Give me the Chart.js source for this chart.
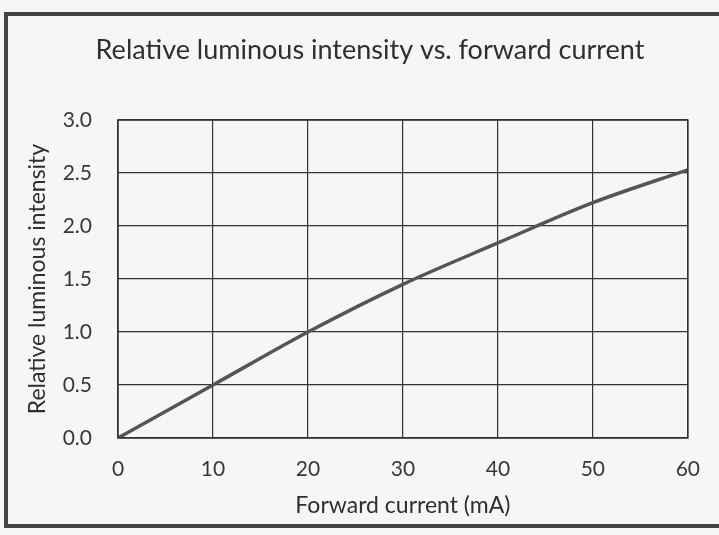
<!DOCTYPE html>
<html>
<head>
<meta charset="utf-8">
<script src="https://cdn.jsdelivr.net/npm/chart.js@4"></script>
<style>
  html, body { margin: 0; padding: 0; background: #f6f6f4; }
  #wrap { width: 719px; height: 535px; position: relative; }
</style>
</head>
<body>
<div id="wrap"><canvas id="c" width="719" height="535"></canvas></div>
<script>
const currents = [0, 10, 20, 30, 40, 50, 60];
const intensity = [0, 0.5, 1.0, 1.45, 1.84, 2.22, 2.53];
const xTicks = [0, 10, 20, 30, 40, 50, 60];
const yTicks = [0, 0.5, 1.0, 1.5, 2.0, 2.5, 3.0];

const FONT = "Lato, 'Open Sans', sans-serif";

const frame = {
  id: 'frame',
  beforeDraw(chart) {
    const ctx = chart.ctx;
    ctx.save();
    ctx.fillStyle = '#f6f6f4';
    ctx.fillRect(0, 0, chart.width, chart.height);
    ctx.strokeStyle = '#444';
    ctx.lineWidth = 4;
    ctx.strokeRect(6, 14, chart.width + 20, 512);
    ctx.restore();
  },
  afterDatasetsDraw(chart) {
    const a = chart.chartArea;
    const ctx = chart.ctx;
    ctx.save();
    ctx.strokeStyle = '#333';
    ctx.lineWidth = 1.5;
    ctx.strokeRect(a.left, a.top, a.right - a.left, a.bottom - a.top);
    ctx.restore();
  }
};

new Chart(document.getElementById('c'), {
  type: 'line',
  data: {
    datasets: [{
      data: currents.map((x, i) => ({ x, y: intensity[i] })),
      borderColor: '#555',
      borderWidth: 3.5,
      pointRadius: 0,
      tension: 0.4,
      cubicInterpolationMode: 'monotone',
      fill: false
    }]
  },
  options: {
    responsive: false,
    animation: false,
    layout: { padding: { left: 52, right: 31, top: 0, bottom: 0 } },
    plugins: {
      legend: { display: false },
      tooltip: { enabled: false },
      title: {
        display: true,
        text: 'Relative luminous intensity vs. forward current',
        color: '#2f2f2f',
        font: { family: FONT, size: 27, weight: 'normal' },
        padding: { top: 34, bottom: 53.6 }
      }
    },
    scales: {
      x: {
        type: 'linear',
        min: 0, max: 60,
        afterBuildTicks(s) { s.ticks = xTicks.map(v => ({ value: v })); },
        afterFit(s) { s.height = 97; },
        grid: { color: '#333', lineWidth: 1.2, drawTicks: false },
        border: { display: false },
        ticks: { color: '#383838', font: { family: FONT, size: 21 }, padding: 19, maxRotation: 0 },
        title: {
          display: true,
          text: 'Forward current (mA)',
          color: '#2f2f2f',
          font: { family: FONT, size: 23 },
          padding: { top: 0, bottom: 16 }
        }
      },
      y: {
        min: 0, max: 3,
        afterBuildTicks(s) { s.ticks = yTicks.map(v => ({ value: v })); },
        afterFit(s) { s.width = 66; },
        grid: { color: '#333', lineWidth: 1.2, drawTicks: false },
        border: { display: false },
        ticks: {
          color: '#383838', font: { family: FONT, size: 21 }, padding: 26,
          callback: v => Number(v).toFixed(1)
        },
        title: {
          display: true,
          text: 'Relative luminous intensity',
          color: '#2f2f2f',
          font: { family: FONT, size: 23 },
          padding: { top: -28, bottom: 0 }
        }
      }
    }
  },
  plugins: [frame]
});
</script>
</body>
</html>
